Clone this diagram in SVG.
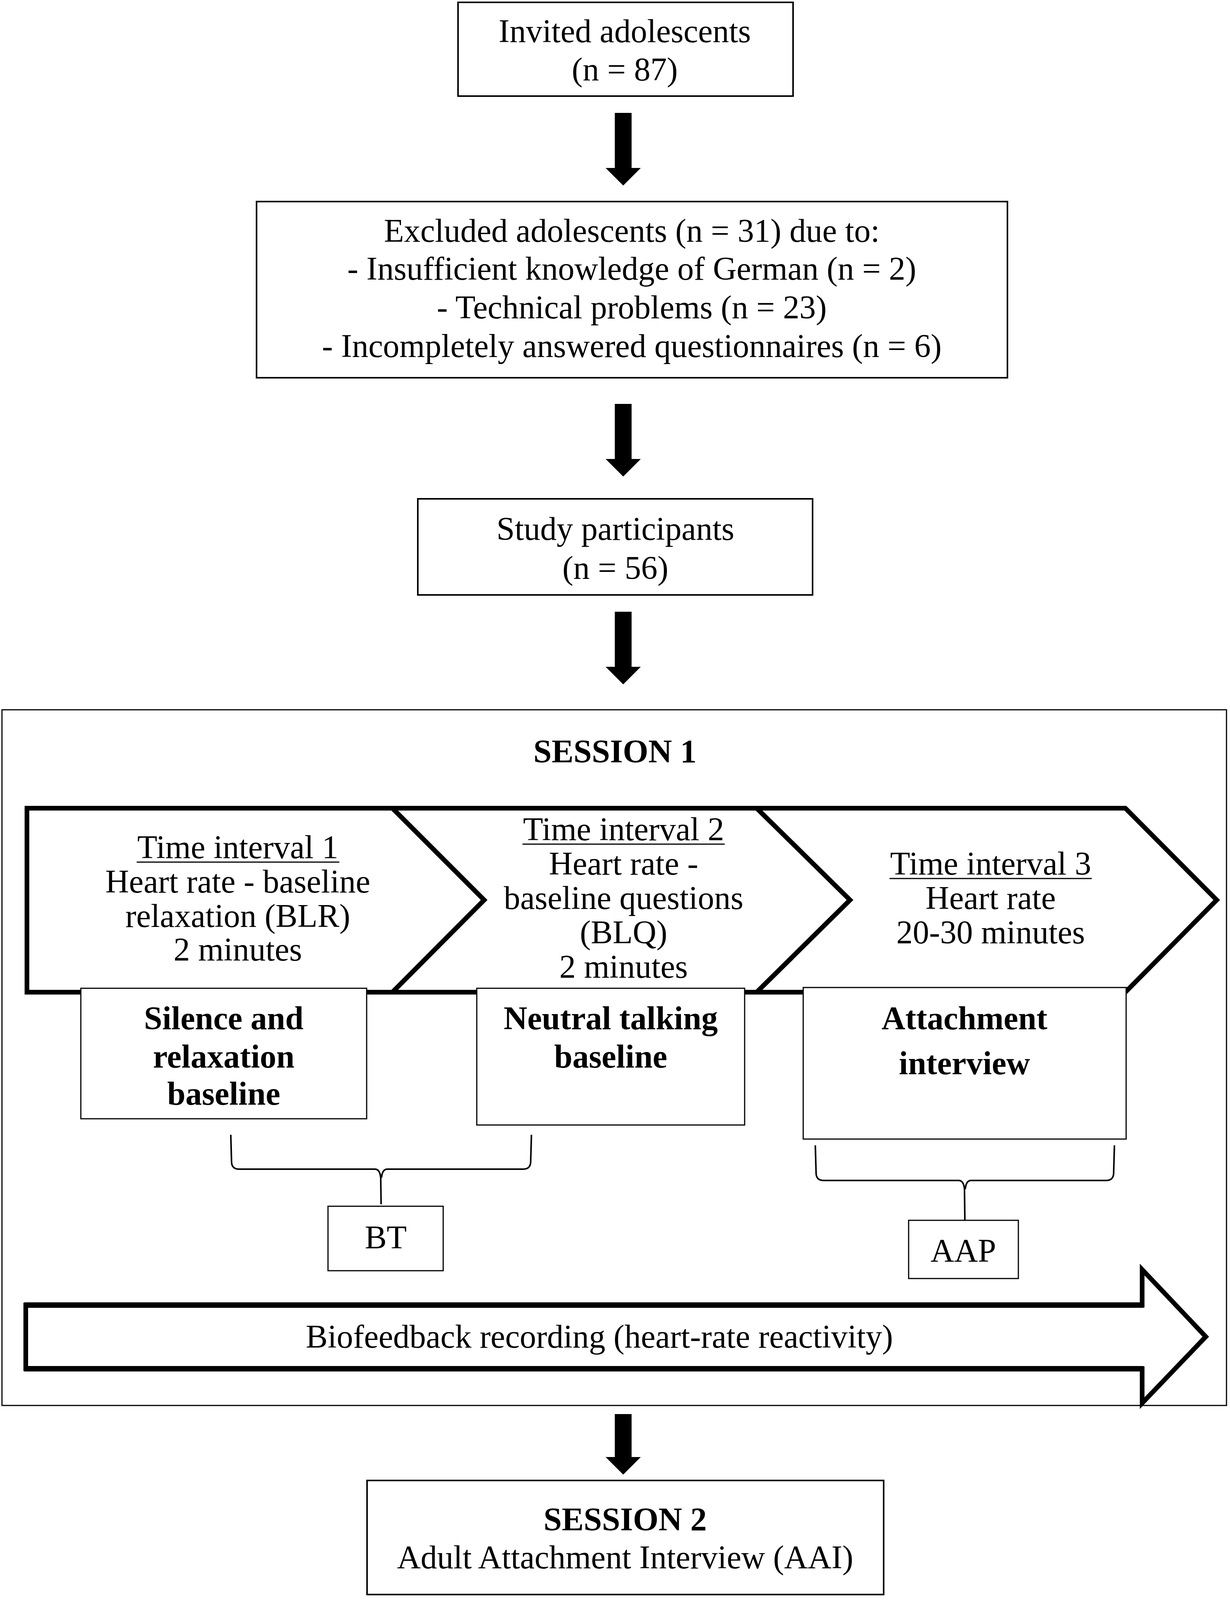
<svg xmlns="http://www.w3.org/2000/svg" width="3150" height="4219" viewBox="0 0 3150 4219">
<defs>
<style>
.t{font-family:"Liberation Serif","Times New Roman",serif;font-size:84px;fill:#000;text-anchor:middle}
.b{font-weight:bold}
.box{fill:#fff;stroke:#000;stroke-width:4}
.thin{fill:#fff;stroke:#000;stroke-width:3}
.chev{fill:#fff;stroke:#000;stroke-width:12;stroke-linejoin:miter}
.brace{fill:none;stroke:#000;stroke-width:4}
.ul{stroke:#000;stroke-width:3}
.arr{fill:#000}
</style>
<path id="dn" d="M -21.5 0 L 21.5 0 L 21.5 141 L 45 141 L 0 186 L -45 141 L -21.5 141 Z"/>
<path id="dn2" d="M -21.5 0 L 21.5 0 L 21.5 110 L 45 110 L 0 155 L -45 110 L -21.5 110 Z"/>
</defs>
<rect width="3150" height="4219" fill="#fff"/>

<g id="connectors">
<use href="#dn" class="arr" x="1596" y="289"/>
<use href="#dn" class="arr" x="1596" y="1034"/>
<use href="#dn" class="arr" x="1596" y="1566"/>
<use href="#dn2" class="arr" x="1596" y="3620"/>
<path class="brace" d="M 591 2905 L 593 2975 Q 594 2993 612 2993 L 960 2993 Q 973 2993 975 3015 L 976 3083 M 1361 2905 L 1359 2975 Q 1358 2993 1340 2993 L 992 2993 Q 979 2993 977 3015"/>
<path class="brace" d="M 2088 2932 L 2090 3004 Q 2091 3022 2109 3022 L 2455 3022 Q 2468 3022 2470 3044 L 2471 3124 M 2854 2932 L 2852 3004 Q 2851 3022 2833 3022 L 2487 3022 Q 2474 3022 2472 3044"/>
</g>

<g id="invited">
<rect class="box" x="1173" y="6" width="858" height="240"/>
<text class="t" x="1600" y="108">Invited adolescents</text>
<text class="t" x="1600" y="206">(n = 87)</text>
</g>

<g id="excluded">
<rect class="box" x="657" y="516" width="1923" height="451"/>
<text class="t" x="1618" y="619">Excluded adolescents (n = 31) due to:</text>
<text class="t" x="1618" y="716">- Insufficient knowledge of German (n = 2)</text>
<text class="t" x="1618" y="815">- Technical problems (n = 23)</text>
<text class="t" x="1618" y="914">- Incompletely answered questionnaires (n = 6)</text>
</g>

<g id="participants">
<rect class="box" x="1070" y="1277" width="1011" height="246"/>
<text class="t" x="1576" y="1382">Study participants</text>
<text class="t" x="1576" y="1482">(n = 56)</text>
</g>

<g id="session1">
<rect x="5" y="1817" width="3136" height="1781" fill="none" stroke="#000" stroke-width="3"/>
<text class="t b" x="1575" y="1952">SESSION 1</text>
</g>

<g id="interval1">
<path class="chev" d="M 69 2069 L 1005 2069 L 1240 2304 L 1005 2540 L 69 2540 Z"/>
<text class="t" x="609" y="2197">Time interval 1</text>
<line class="ul" x1="350" y1="2207" x2="869" y2="2207"/>
<text class="t" x="609" y="2285">Heart rate - baseline</text>
<text class="t" x="609" y="2373">relaxation (BLR)</text>
<text class="t" x="609" y="2459">2 minutes</text>
</g>

<g id="interval2">
<path class="chev" d="M 1005 2069 L 1938 2069 L 2177 2304 L 1938 2540 L 1005 2540 L 1240 2304 Z"/>
<text class="t" x="1597" y="2151">Time interval 2</text>
<line class="ul" x1="1338" y1="2161" x2="1856" y2="2161"/>
<text class="t" x="1597" y="2239">Heart rate -</text>
<text class="t" x="1597" y="2327">baseline questions</text>
<text class="t" x="1597" y="2415">(BLQ)</text>
<text class="t" x="1597" y="2503">2 minutes</text>
</g>

<g id="interval3">
<path class="chev" d="M 1938 2069 L 2882 2069 L 3116 2304 L 2882 2540 L 1938 2540 L 2177 2304 Z"/>
<text class="t" x="2537" y="2239">Time interval 3</text>
<line class="ul" x1="2278" y1="2249" x2="2796" y2="2249"/>
<text class="t" x="2537" y="2327">Heart rate</text>
<text class="t" x="2537" y="2415">20-30 minutes</text>
</g>

<g id="silence">
<rect class="thin" x="207" y="2530" width="732" height="334"/>
<text class="t b" x="573" y="2635">Silence and</text>
<text class="t b" x="573" y="2733">relaxation</text>
<text class="t b" x="573" y="2828">baseline</text>
</g>

<g id="neutral">
<rect class="thin" x="1221" y="2530" width="686" height="350"/>
<text class="t b" x="1564" y="2635">Neutral talking</text>
<text class="t b" x="1564" y="2733">baseline</text>
</g>

<g id="attachment">
<rect class="thin" x="2057" y="2528" width="827" height="388"/>
<text class="t b" x="2470" y="2635">Attachment</text>
<text class="t b" x="2470" y="2750">interview</text>
</g>

<g id="bt">
<rect class="thin" x="840" y="3088" width="295" height="165"/>
<text class="t" x="988" y="3196">BT</text>
</g>

<g id="aap">
<rect class="thin" x="2327" y="3124" width="281" height="149"/>
<text class="t" x="2467" y="3230">AAP</text>
</g>

<g id="biofeedback">
<path d="M 66 3341 L 2925 3341 L 2925 3250 L 3088 3422 L 2925 3592 L 2925 3504 L 66 3504 Z" fill="#fff" stroke="#000" stroke-width="12" stroke-linejoin="miter"/>
<line x1="62" y1="3341" x2="2929" y2="3341" stroke="#000" stroke-width="14"/>
<line x1="62" y1="3504" x2="2929" y2="3504" stroke="#000" stroke-width="14"/>
<text class="t" x="1535" y="3450">Biofeedback recording (heart-rate reactivity)</text>
</g>

<g id="session2">
<rect class="box" x="940" y="3790" width="1323" height="292"/>
<text class="t b" x="1601" y="3918">SESSION 2</text>
<text class="t" x="1601" y="4015">Adult Attachment Interview (AAI)</text>
</g>
</svg>
